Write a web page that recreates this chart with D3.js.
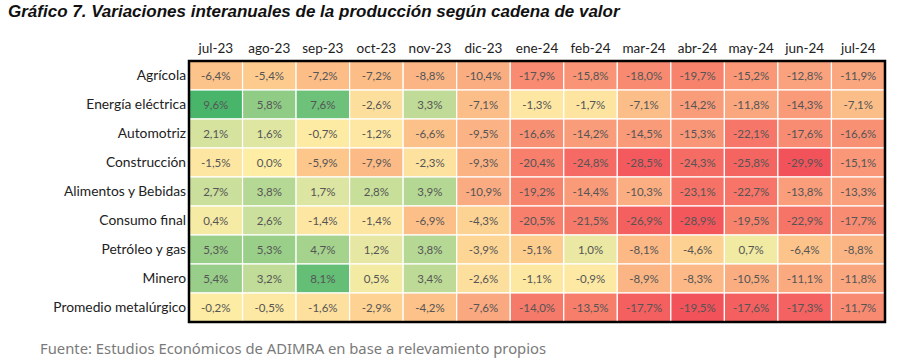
<!DOCTYPE html>
<html><head><meta charset="utf-8">
<script src="https://cdn.jsdelivr.net/npm/d3@7"></script>
<style>body{margin:0;background:#fff}svg{display:block}</style>
</head><body><svg id="c" width="918" height="360"></svg>
<script>
const months = ["jul-23","ago-23","sep-23","oct-23","nov-23","dic-23","ene-24","feb-24","mar-24","abr-24","may-24","jun-24","jul-24"];
const sectors = ["Agrícola","Energía eléctrica","Automotriz","Construcción","Alimentos y Bebidas","Consumo final","Petróleo y gas","Minero","Promedio metalúrgico"];
const agricola      = [-6.4,-5.4,-7.2,-7.2,-8.8,-10.4,-17.9,-15.8,-18.0,-19.7,-15.2,-12.8,-11.9];
const energia       = [9.6,5.8,7.6,-2.6,3.3,-7.1,-1.3,-1.7,-7.1,-14.2,-11.8,-14.3,-7.1];
const automotriz    = [2.1,1.6,-0.7,-1.2,-6.6,-9.5,-16.6,-14.2,-14.5,-15.3,-22.1,-17.6,-16.6];
const construccion  = [-1.5,0.0,-5.9,-7.9,-2.3,-9.3,-20.4,-24.8,-28.5,-24.3,-25.8,-29.9,-15.1];
const alimentos     = [2.7,3.8,1.7,2.8,3.9,-10.9,-19.2,-14.4,-10.3,-23.1,-22.7,-13.8,-13.3];
const consumo       = [0.4,2.6,-1.4,-1.4,-6.9,-4.3,-20.5,-21.5,-26.9,-28.9,-19.5,-22.9,-17.7];
const petroleo      = [5.3,5.3,4.7,1.2,3.8,-3.9,-5.1,1.0,-8.1,-4.6,0.7,-6.4,-8.8];
const minero        = [5.4,3.2,8.1,0.5,3.4,-2.6,-1.1,-0.9,-8.9,-8.3,-10.5,-11.1,-11.8];
const promedio      = [-0.2,-0.5,-1.6,-2.9,-4.2,-7.6,-14.0,-13.5,-17.7,-19.5,-17.6,-17.3,-11.7];
const rows = [agricola,energia,automotriz,construccion,alimentos,consumo,petroleo,minero,promedio];
const title = "Gráfico 7. Variaciones interanuales de la producción según cadena de valor";
const source = "Fuente: Estudios Económicos de ADIMRA en base a relevamiento propios";

const svg = d3.select("#c");
const L = 189, R = 885, T = 61, B = 322;
const x = d3.scaleBand().domain(months).range([L, R]);
const y = d3.scaleBand().domain(sectors).range([T, B]);

const col = d3.scaleLinear()
  .domain([-1,-0.83,-0.67,-0.5,-0.33,-0.23,-0.17,-0.07,0,0.2,0.5,1])
  .range(["#f2525a","#f56a64","#f7816c","#f99878","#fbb083","#fcbf88","#fdcd8e","#fde3a0","#fdeda5","#d8e4a0","#a3d28d","#48b56a"])
  .interpolate(d3.interpolateRgb).clamp(true);

const sectorVals = rows.slice(0,8).flat();
const groups = [
  {min: d3.min(sectorVals), max: d3.max(sectorVals)},
  {min: d3.min(promedio), max: Math.max(d3.max(promedio), 0.0001)}
];
function fillFor(v, ri){
  const g = ri === 8 ? groups[1] : groups[0];
  return col(v < 0 ? -(v / g.min) : v / g.max);
}
const fmt = v => v.toFixed(1).replace(".", ",") + "%";

svg.append("text").attr("x", 8).attr("y", 17)
  .attr("font-family", "Liberation Sans, Arial, sans-serif")
  .attr("font-weight", "bold").attr("font-style", "italic")
  .attr("font-size", 17).attr("fill", "#111").text(title);

svg.append("g").selectAll("text").data(months).join("text")
  .attr("x", d => x(d) + x.bandwidth()/2).attr("y", 53)
  .attr("text-anchor", "middle")
  .attr("font-family", "Lato, sans-serif").attr("font-size", 13.5).attr("fill", "#222")
  .text(d => d);

svg.append("g").selectAll("text").data(sectors).join("text")
  .attr("x", L - 3).attr("y", d => y(d) + y.bandwidth()/2 + 4.5)
  .attr("text-anchor", "end")
  .attr("font-family", "Lato, sans-serif").attr("font-size", 13.8).attr("fill", "#222")
  .text(d => d);

const cells = [];
rows.forEach((r, ri) => r.forEach((v, ci) => cells.push({v, ri, ci})));

const g = svg.append("g");
g.selectAll("rect").data(cells).join("rect")
  .attr("x", d => x(months[d.ci])).attr("y", d => y(sectors[d.ri]))
  .attr("width", x.bandwidth()).attr("height", y.bandwidth())
  .attr("fill", d => fillFor(d.v, d.ri))
  .attr("stroke", "#fff").attr("stroke-width", 1.2);

g.selectAll("text").data(cells).join("text")
  .attr("x", d => x(months[d.ci]) + x.bandwidth()/2)
  .attr("y", d => y(sectors[d.ri]) + y.bandwidth()/2 + 4)
  .attr("text-anchor", "middle")
  .attr("font-family", "Lato, sans-serif").attr("font-size", 11.5).attr("fill", "#555")
  .text(d => fmt(d.v));

svg.append("rect").attr("x", L).attr("y", T)
  .attr("width", R - L).attr("height", B - T)
  .attr("fill", "none").attr("stroke", "#000").attr("stroke-width", 2.5);

svg.append("text").attr("x", 40).attr("y", 354)
  .attr("font-family", "Noto Sans, sans-serif").attr("font-size", 14.8).attr("fill", "#7a7a7a")
  .text(source);
</script></body></html>
